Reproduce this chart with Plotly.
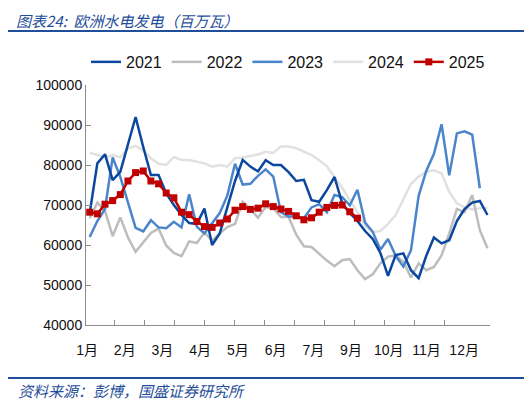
import plotly.graph_objects as go

# weekly values, week 1..53
weeks = list(range(1, 54))

y2021 = [68000, 80400, 82700, 76200, 78300, 85000, 92000, 84500, 77500, 77500,
         72900, 70000, 67500, 65500, 65300, 69100, 60000, 62900, 69800, 76000,
         81300, 79600, 78400, 81200, 80000, 80000, 78200, 76000, 76300, 71200,
         70800, 73700, 77000, 70500, 68000, 66000, 63500, 61500, 58000, 52300,
         57500, 57900, 53700, 51700, 57300, 61900, 60400, 61200, 66000, 69000,
         70600, 71000, 67500]

y2022 = [66700, 70600, 68500, 62200, 66900, 61900, 58300, 60600, 63000, 64100,
         59900, 58000, 57200, 60900, 60500, 63100, 61100, 62900, 64500, 65300,
         70800, 69000, 66800, 69500, 69200, 67000, 67000, 62600, 59700, 59500,
         57700, 56100, 54700, 56200, 56500, 53700, 51500, 52700, 55400, 57100,
         57400, 55800, 51900, 55400, 53700, 54500, 57400, 62900, 69000, 68200,
         72500, 63700, 59200]

y2023 = [62000, 66000, 69000, 81900, 77000, 70600, 64300, 63400, 66200, 64400,
         64200, 65800, 64400, 72700, 64600, 62900, 65600, 68000, 72400, 80300,
         75100, 75300, 77300, 78900, 77100, 68200, 67100, 67200, 66700, 69400,
         70200, 68200, 72500, 72000, 69900, 73800, 65600, 63300, 58800, 61500,
         57300, 54600, 58700, 72300, 78500, 82800, 90200, 77400, 87900, 88400,
         87600, 74200, None]

y2024 = [83100, 82500, 81900, 82500, 81900, 84100, 84800, 83600, 81700, 80300,
         80000, 82000, 81250, 81250, 80800, 80400, 79600, 80000, 79600, 81700,
         81900, 82200, 82600, 83300, 83000, 84600, 84600, 84200, 83300, 82500,
         81200, 79700, 77000, 74300, 71200, 68300, 64800, 63200, 63500, 65300,
         67500, 71200, 75300, 77100, 78300, 78700, 77900, 73300, 70400, 69400,
         68900, 69200, 69300]

y2025 = [68200, 67800, 70200, 71100, 72600, 76000, 78100, 78500, 76000, 75300,
         73000, 71800, 68200, 67600, 65900, 64600, 64400, 65500, 66500, 68700,
         69600, 68900, 69200, 70300, 69600, 69000, 68400, 67300, 66300, 66800,
         68200, 69400, 69900, 70000, 68300, 66700]

month_labels = ["1月", "2月", "3月", "4月", "5月", "6月", "7月", "9月", "10月", "11月", "12月"]
y_ticks = [40000, 50000, 60000, 70000, 80000, 90000, 100000]

BLUE_TITLE = "#1F4E9A"
TXT = "Liberation Sans, Arial, Noto Sans CJK SC, sans-serif"
CJK = "Noto Sans CJK SC, sans-serif"

series = [
    ("2024", y2024, "#E1E1E1", 4),
    ("2022", y2022, "#BDBDBD", 2),
    ("2023", y2023, "#4A85CB", 3),
    ("2021", y2021, "#0B479E", 1),
]

fig = go.Figure()
for name, vals, color, rank in series:
    fig.add_trace(go.Scatter(
        x=weeks, y=vals, name=name, mode="lines", legendrank=rank,
        line=dict(color=color, width=2.5),
    ))

fig.add_trace(go.Scatter(
    x=weeks[:len(y2025)], y=y2025, name="2025", mode="lines+markers", legendrank=5,
    line=dict(color="#C00000", width=2.5),
    marker=dict(symbol="square", size=7, color="#C00000"),
))

# label positions and tick-mark positions (in week units)
label_pos = [0.65 + 4.93 * k for k in range(len(month_labels))]
mark_pos = [0.3 + 3.922 * k for k in range(1, 13)]

# page has an 8px body margin, so the figure is 8px smaller than the window
fig.update_layout(
    width=524, height=395,
    margin=dict(l=78, r=42, t=77, b=78),
    plot_bgcolor="white", paper_bgcolor="white",
    showlegend=True,
    legend=dict(orientation="h", x=0.5, xanchor="center", y=1.096, yanchor="middle",
                font=dict(family=TXT, size=16, color="#111111"),
                itemwidth=30, bgcolor="rgba(0,0,0,0)"),
    xaxis=dict(
        range=[0.516, 53.33], showgrid=False, zeroline=False,
        showline=True, linecolor="#8C8C8C", linewidth=1,
        tickmode="array", tickvals=label_pos, ticktext=month_labels, ticks="",
        tickfont=dict(family=TXT, size=14, color="#111111"), ticklabelstandoff=12,
        minor=dict(tickmode="array", tickvals=mark_pos, ticks="inside",
                   ticklen=5, tickcolor="#8C8C8C", tickwidth=1),
    ),
    yaxis=dict(
        range=[40000, 100000], showgrid=False, zeroline=False,
        showline=True, linecolor="#8C8C8C", linewidth=1,
        tickmode="array", tickvals=y_ticks, ticktext=[str(v) for v in y_ticks],
        ticks="inside", ticklen=5, tickcolor="#8C8C8C",
        tickfont=dict(family=TXT, size=14, color="#111111"),
    ),
)

fig.add_annotation(
    xref="paper", yref="paper", x=-0.175, y=1.318, xanchor="left", yanchor="top",
    text="<i>图表24:  欧洲水电发电（百万瓦）</i>", showarrow=False,
    font=dict(family=CJK, size=15, color=BLUE_TITLE), borderpad=0,
)
fig.add_annotation(
    xref="paper", yref="paper", x=-0.173, y=-0.272, xanchor="left", yanchor="middle",
    text="<i>资料来源：彭博，国盛证券研究所</i>", showarrow=False,
    font=dict(family=CJK, size=15, color=BLUE_TITLE),
)
fig.add_shape(type="line", xref="paper", yref="paper", x0=-0.193, x1=1.104, y0=1.225, y1=1.225,
              line=dict(color=BLUE_TITLE, width=2))
fig.add_shape(type="line", xref="paper", yref="paper", x0=-0.193, x1=1.104, y0=-0.221, y1=-0.221,
              line=dict(color=BLUE_TITLE, width=2))

fig.write_html("out.html")
